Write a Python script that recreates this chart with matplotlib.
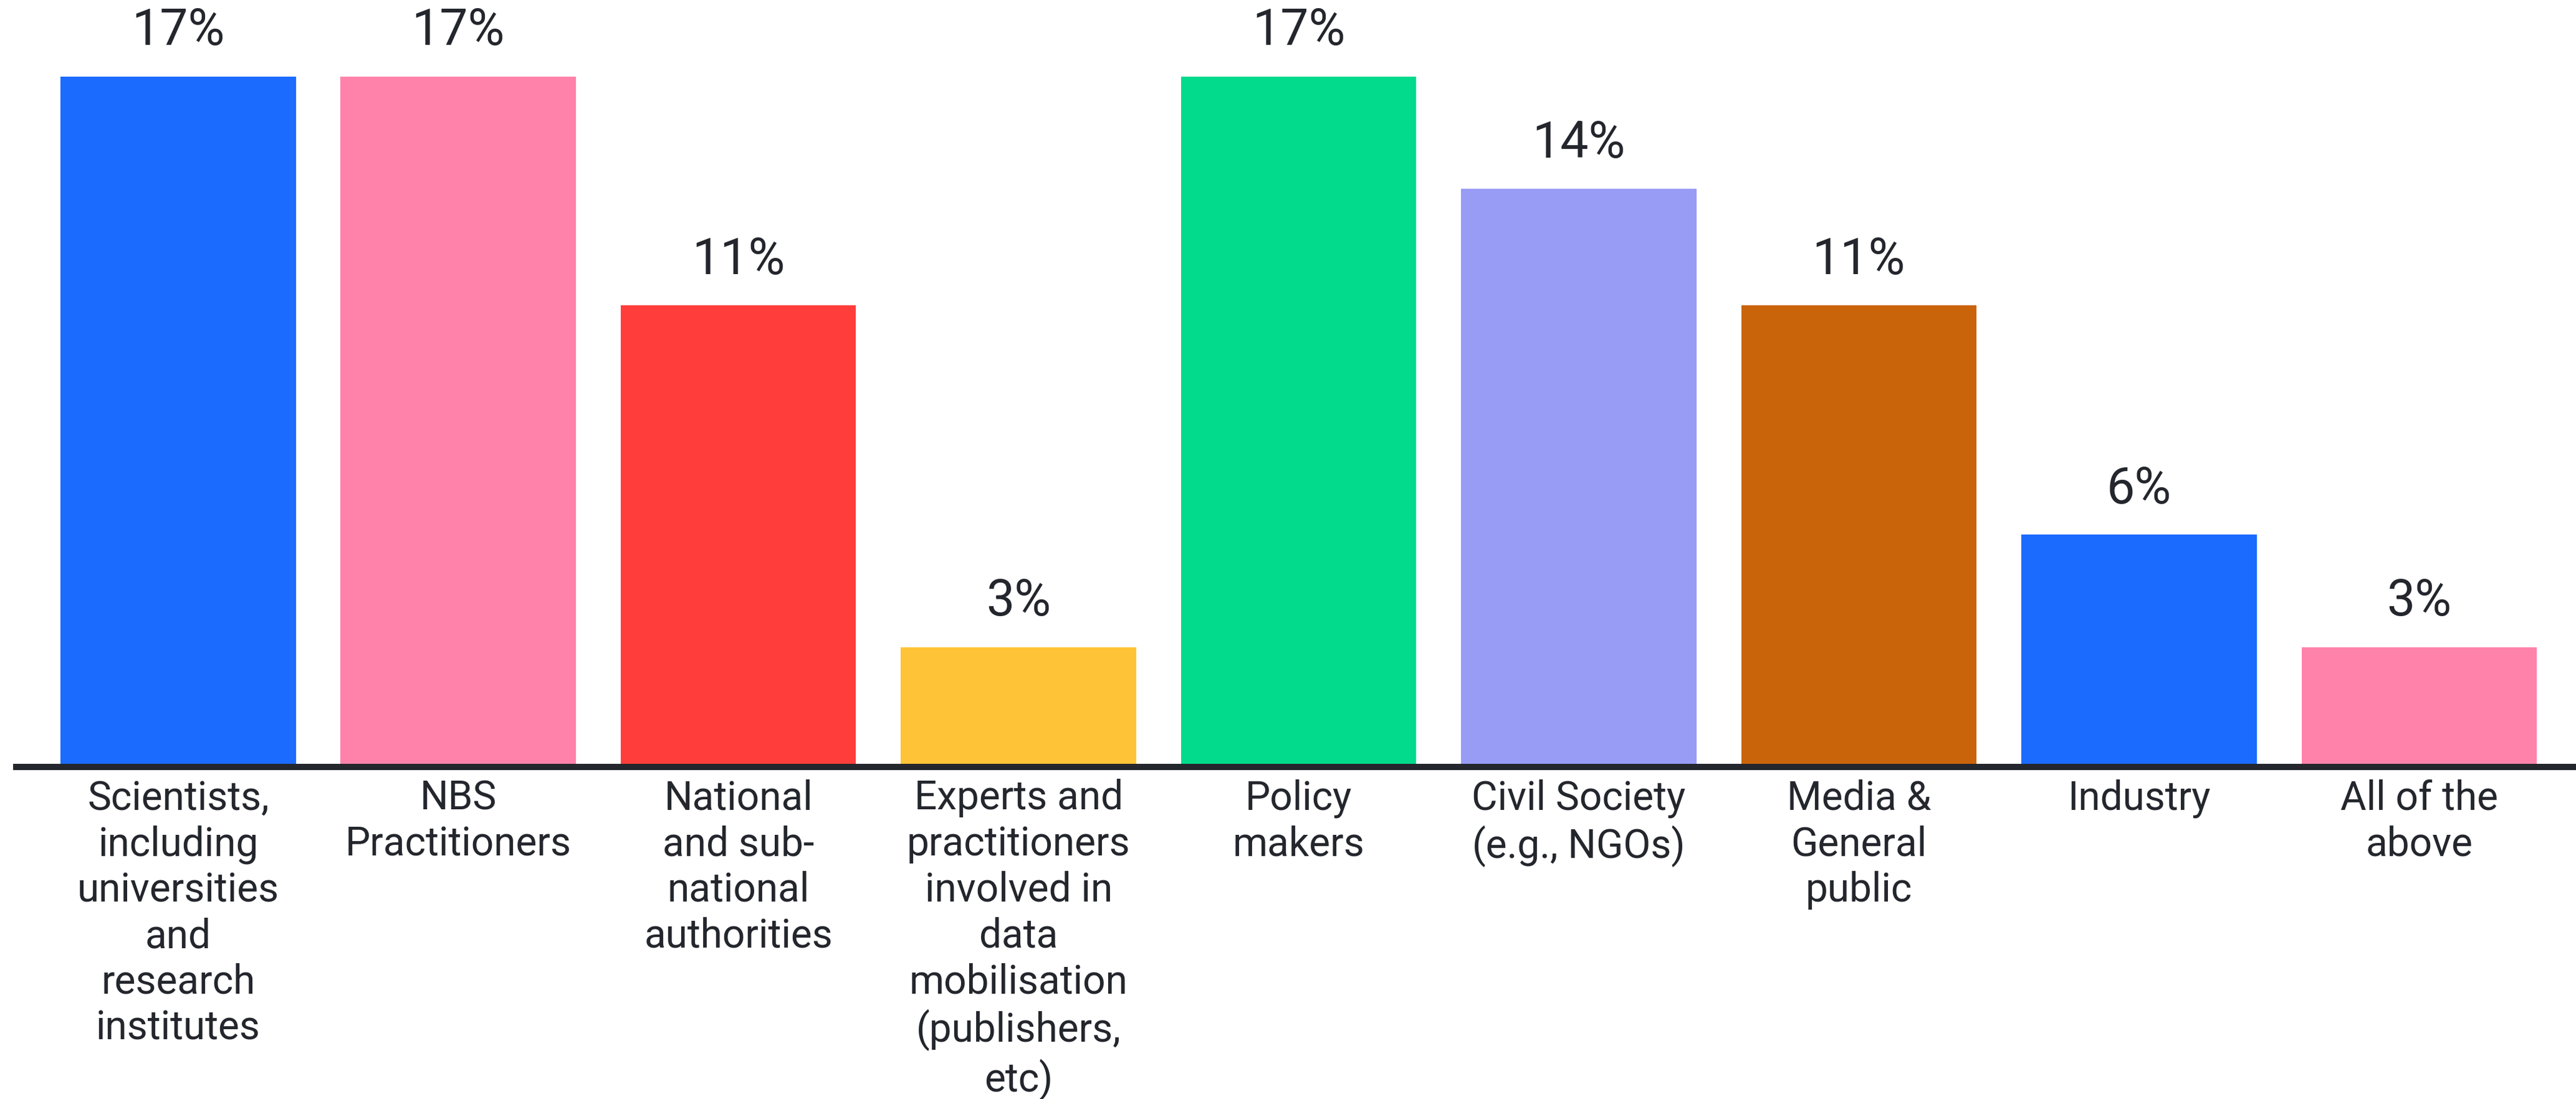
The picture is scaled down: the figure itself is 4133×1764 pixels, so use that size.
import matplotlib
matplotlib.use("Agg")
import matplotlib.pyplot as plt

# Stakeholder groups and share of responses (%)
categories = [
    "Scientists,\nincluding\nuniversities\nand\nresearch\ninstitutes",
    "NBS\nPractitioners",
    "National\nand sub-\nnational\nauthorities",
    "Experts and\npractitioners\ninvolved in\ndata\nmobilisation\n(publishers,\netc)",
    "Policy\nmakers",
    "Civil Society\n(e.g., NGOs)",
    "Media &\nGeneral\npublic",
    "Industry",
    "All of the\nabove",
]
shares = [17.1, 17.1, 11.4, 2.9, 17.1, 14.3, 11.4, 5.7, 2.9]
colors = ["#1B6BFF", "#FF82AA", "#FF3E3C", "#FFC337", "#02DA8C",
          "#989CF5", "#CA640A", "#1B6BFF", "#FF82AA"]

text_color = "#23262C"
plt.rcParams["font.family"] = ["Roboto", "DejaVu Sans"]

fig = plt.figure(figsize=(41.33, 17.64), dpi=100)
ax = fig.add_axes([0.0063, 0.3022, 0.9937, 0.6978])

x = list(range(len(categories)))
ax.bar(x, shares, width=0.84, color=colors, zorder=2)

for xi, v in zip(x, shares):
    ax.annotate(f"{v:.0f}%", xy=(xi, v), xytext=(0, 24), textcoords="offset points",
                ha="center", va="bottom", fontsize=58, color=text_color)

ax.set_xlim(-0.578, 8.56)
ax.set_ylim(-0.0775, 19.0)
ax.set_xticks(x)
ax.set_xticklabels(categories, fontsize=46, color=text_color, linespacing=1.24)
ax.tick_params(axis="x", length=0, pad=14)
ax.set_yticks([])

# only the baseline stays
for side in ["top", "right", "left"]:
    ax.spines[side].set_visible(False)
ax.spines["bottom"].set_linewidth(7.2)
ax.spines["bottom"].set_color(text_color)
ax.spines["bottom"].set_zorder(3)

fig.savefig("out.png", dpi=100, facecolor="white")
